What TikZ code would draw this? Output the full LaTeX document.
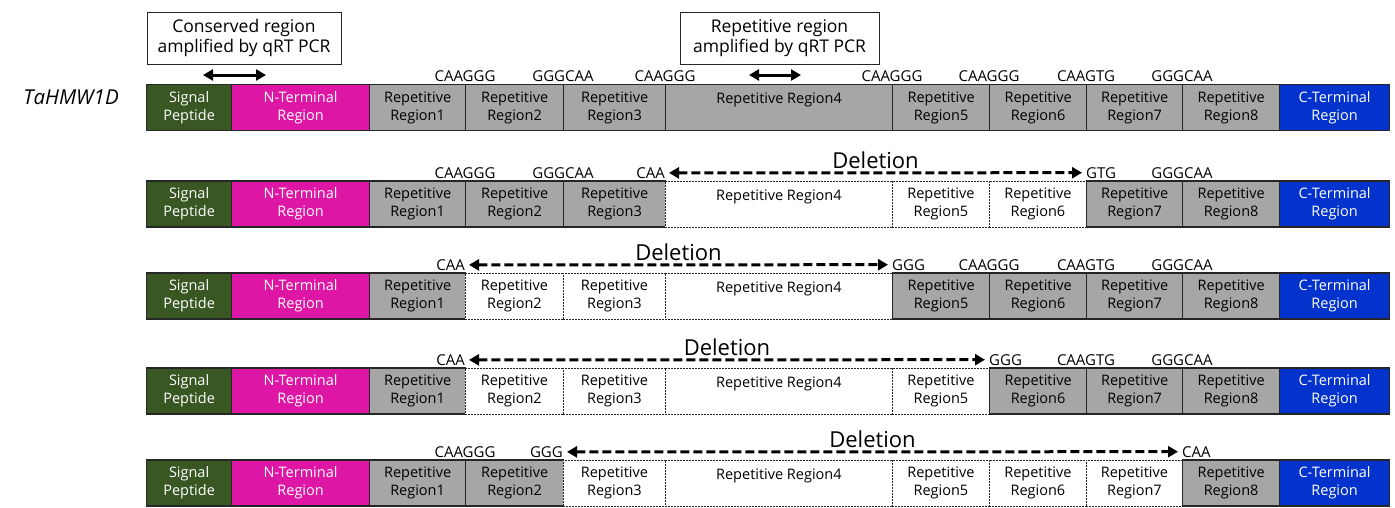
\documentclass[tikz,border=0pt]{standalone}
\usepackage{fontspec}
\setmainfont{Open Sans}
\usetikzlibrary{arrows.meta}
\definecolor{sigc}{RGB}{56,87,35}
\definecolor{ntc}{RGB}{221,22,165}
\definecolor{repc}{RGB}{166,166,166}
\definecolor{ctc}{RGB}{4,50,204}
\definecolor{edgec}{RGB}{38,38,38}
\newcommand\generow[8]{%
\node[sig] (#1sp) at (146,#2) {Signal\\Peptide};
\node[nt] (#1nt) at (231,#2) {N-Terminal\\Region};
\node[rep, minimum width=96pt] (#1r1) at (369,#2) {Repetitive\\Region1};
\node[#3, minimum width=98pt] (#1r2) at (465,#2) {Repetitive\\Region2};
\node[#4, minimum width=102pt] (#1r3) at (563,#2) {Repetitive\\Region3};
\node[#5, minimum width=227pt] (#1r4) at (665,#2) {Repetitive Region4\\\mbox{}};
\node[#6, minimum width=97pt] (#1r5) at (892,#2) {Repetitive\\Region5};
\node[#7, minimum width=97pt] (#1r6) at (989,#2) {Repetitive\\Region6};
\node[#8, minimum width=96pt] (#1r7) at (1086,#2) {Repetitive\\Region7};
\node[rep, minimum width=97pt] (#1r8) at (1182,#2) {Repetitive\\Region8};
\node[ct] (#1ct) at (1279,#2) {C-Terminal\\Region};
}
\begin{document}
\begin{tikzpicture}[x=1pt,y=-1pt,
  box/.style={draw=edgec, line width=1.2pt, minimum height=46pt, anchor=west, align=center, inner sep=0pt, font=\fontsize{14.5}{18}\selectfont},
  sig/.style={box, fill=sigc, text=white, minimum width=85pt},
  nt/.style={box, fill=ntc, text=white, minimum width=138pt},
  rep/.style={box, fill=repc},
  del/.style={box, fill=white, dash pattern=on 2pt off 1pt, line width=0.8pt},
  ct/.style={box, fill=ctc, text=white, minimum width=110pt},
  seq/.style={inner sep=0pt, font=\fontsize{15}{17}\selectfont},
  lab/.style={draw=edgec, line width=1pt, align=center, minimum width=194pt, minimum height=52pt, inner sep=0pt, font=\fontsize{17.5}{20.5}\selectfont},
  dbl/.style={line width=3pt, {Triangle[length=10pt,width=11pt]}-{Triangle[length=10pt,width=11pt]}},
  delarr/.style={line width=3pt, dash pattern=on 9pt off 4pt, {Triangle[length=10pt,width=11pt]}-{Triangle[length=10pt,width=11pt]}, shorten <=4pt, shorten >=4pt},
  delt/.style={font=\fontsize{22}{25}\selectfont, inner sep=0pt, above=3pt}
]
\useasboundingbox (0,0) rectangle (1395,507);
\node[font=\fontsize{20.5}{24}\selectfont\itshape] (name) at (71,97) {TaHMW1D};
\node[lab] (cons) at (244,38) {Conserved region\\amplified by qRT PCR};
\node[lab, minimum width=199pt] (reprg) at (779.5,38) {Repetitive region\\amplified by qRT PCR};
\coordinate (ca) at (203,75); \coordinate (cb) at (266,75);
\coordinate (ra) at (749,75); \coordinate (rb) at (801,75);
\draw[dbl] (ca) -- (cb);
\draw[dbl] (ra) -- (rb);
% row 1
\generow{a}{107.5}{rep}{rep}{rep}{rep}{rep}{rep}
\node[seq, anchor=south] (a1) at ([yshift=2pt]ar2.north west) {CAAGGG};
\node[seq, anchor=south] (a2) at ([yshift=2pt]ar3.north west) {GGGCAA};
\node[seq, anchor=south] (a3) at ([yshift=2pt]ar4.north west) {CAAGGG};
\node[seq, anchor=south] (a4) at ([yshift=2pt]ar5.north west) {CAAGGG};
\node[seq, anchor=south] (a5) at ([yshift=2pt]ar6.north west) {CAAGGG};
\node[seq, anchor=south] (a6) at ([yshift=2pt]ar7.north west) {CAAGTG};
\node[seq, anchor=south] (a7) at ([yshift=2pt]ar8.north west) {GGGCAA};
% row 2
\generow{b}{204}{rep}{rep}{del}{del}{del}{rep}
\node[seq, anchor=south] (b1) at ([yshift=2pt]br2.north west) {CAAGGG};
\node[seq, anchor=south] (b2) at ([yshift=2pt]br3.north west) {GGGCAA};
\node[seq, anchor=south east] (b3) at ([yshift=2pt]br4.north west) {CAA};
\node[seq, anchor=south west] (b4) at ([yshift=2pt]br7.north west) {GTG};
\node[seq, anchor=south] (b5) at ([yshift=2pt]br8.north west) {GGGCAA};
\draw[delarr] (b3) -- node[delt] (bd) {Deletion} (b4);
% row 3
\generow{c}{296}{del}{del}{del}{rep}{rep}{rep}
\node[seq, anchor=south east] (c1) at ([yshift=2pt]cr2.north west) {CAA};
\node[seq, anchor=south west] (c2) at ([yshift=2pt]cr5.north west) {GGG};
\node[seq, anchor=south] (c3) at ([yshift=2pt]cr6.north west) {CAAGGG};
\node[seq, anchor=south] (c4) at ([yshift=2pt]cr7.north west) {CAAGTG};
\node[seq, anchor=south] (c5) at ([yshift=2pt]cr8.north west) {GGGCAA};
\draw[delarr] (c1) -- node[delt] (cd) {Deletion} (c2);
% row 4
\generow{d}{391}{del}{del}{del}{del}{rep}{rep}
\node[seq, anchor=south east] (d1) at ([yshift=2pt]dr2.north west) {CAA};
\node[seq, anchor=south west] (d2) at ([yshift=2pt]dr6.north west) {GGG};
\node[seq, anchor=south] (d3) at ([yshift=2pt]dr7.north west) {CAAGTG};
\node[seq, anchor=south] (d4) at ([yshift=2pt]dr8.north west) {GGGCAA};
\draw[delarr] (d1) -- node[delt] (dd) {Deletion} (d2);
% row 5
\generow{e}{483}{rep}{del}{del}{del}{del}{del}
\node[seq, anchor=south] (e1) at ([yshift=2pt]er2.north west) {CAAGGG};
\node[seq, anchor=south east] (e2) at ([yshift=2pt]er3.north west) {GGG};
\node[seq, anchor=south west] (e3) at ([yshift=2pt]er8.north west) {CAA};
\draw[delarr] (e2) -- node[delt] (ed) {Deletion} (e3);
\end{tikzpicture}
\end{document}
